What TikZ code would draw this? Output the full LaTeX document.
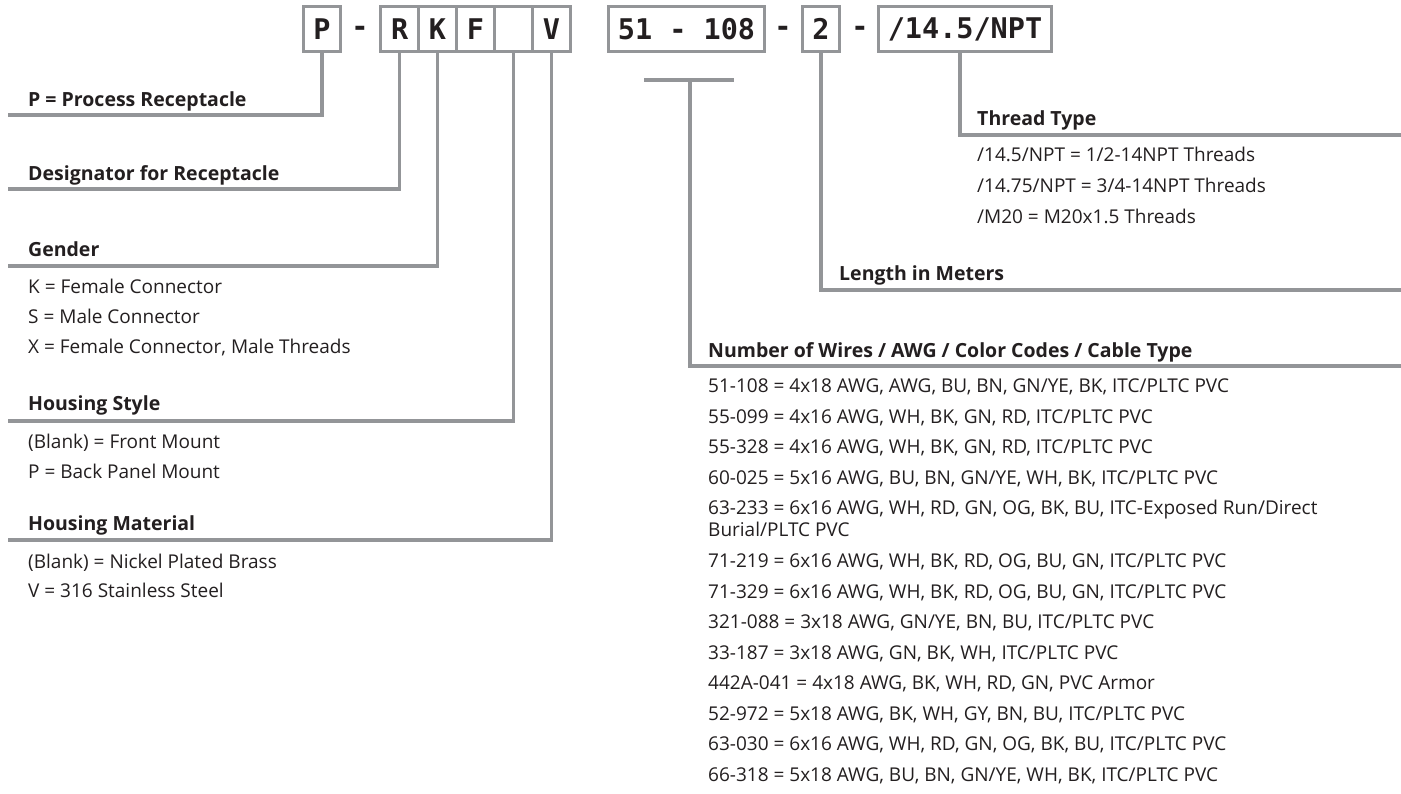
\documentclass[tikz,border=0pt]{standalone}
\usepackage{fontspec}
\setmainfont{Open Sans}
\newfontfamily\boxfont{DejaVu Sans Mono}
\definecolor{lgray}{HTML}{939598}
\definecolor{tdark}{HTML}{231F20}
\begin{document}
\begin{tikzpicture}[x=1pt,y=-1pt,
  conn/.style={draw=lgray, line width=3.2pt},
  codebox/.style={draw=lgray, line width=3.2pt, minimum height=44.8pt, inner sep=0pt, text=tdark, font=\boxfont\bfseries\fontsize{28.5}{28.5}\selectfont},
  dashsym/.style={inner sep=0pt, text=tdark, font=\boxfont\bfseries\fontsize{28.5}{28.5}\selectfont},
  hdr/.style={anchor=base west, inner sep=0pt, text=tdark, font=\bfseries\fontsize{19.5}{21}\selectfont},
  body/.style={anchor=base west, inner sep=0pt, text=tdark, font=\fontsize{19}{21}\selectfont}]
\useasboundingbox[fill=white] (0,0) rectangle (1401,793);

% code boxes
\node[codebox, minimum width=36.8pt] (bP) at (322,29) {P};
\node[dashsym] (d1) at (360,31) {-};
\node[codebox, minimum width=37.96pt] (cR) at (399.6,29) {R};
\node[codebox, minimum width=37.96pt] (cK) at (437.5,29) {K};
\node[codebox, minimum width=37.96pt] (cF) at (475.5,29) {F};
\node[codebox, minimum width=37.96pt] (cB) at (513.5,29) {};
\node[codebox, minimum width=37.96pt] (cV) at (551.4,29) {V};
\node[codebox, minimum width=155.8pt] (bW) at (686.5,29) {51 - 108};
\node[dashsym] (d2) at (783,31) {-};
\node[codebox, minimum width=36.8pt] (b2) at (821,29) {2};
\node[dashsym] (d3) at (860,31) {-};
\node[codebox, minimum width=172.8pt] (bN) at (965,29) {/14.5/NPT};

% connector end points
\coordinate (eP) at (8,115);
\coordinate (eR) at (8,189);
\coordinate (eK) at (8,266);
\coordinate (eB) at (8,421);
\coordinate (eV) at (8,540);
\coordinate (barL) at (644,80);
\coordinate (barR) at (734,80);
\coordinate (barM) at (690,80);
\coordinate (eW) at (1401,366);
\coordinate (eL) at (1401,290);
\coordinate (eT) at (1401,135);

\draw[conn] (bP.south) |- (eP);
\draw[conn] (cR.south) |- (eR);
\draw[conn] (cK.south) |- (eK);
\draw[conn] (cB.south) |- (eB);
\draw[conn] (cV.south) |- (eV);
\draw[conn] (barL) -- (barR);
\draw[conn] (barM) |- (eW);
\draw[conn] (b2.south) |- (eL);
\draw[conn] ([xshift=-5pt]bN.south) |- (eT);

% left texts
\node[hdr] (tP) at (28,106) {P = Process Receptacle};
\node[hdr] (tR) at (28,180) {Designator for Receptacle};
\node[hdr] (tG) at (28,256) {Gender};
\node[body] (g1) at (28,293.6) {K = Female Connector};
\node[body] (g2) at (28,323.6) {S = Male Connector};
\node[body] (g3) at (28,353.6) {X = Female Connector, Male Threads};
\node[hdr] (tS) at (28,410) {Housing Style};
\node[body] (s1) at (28,448.6) {(Blank) = Front Mount};
\node[body] (s2) at (28,478.6) {P = Back Panel Mount};
\node[hdr] (tM) at (28,530) {Housing Material};
\node[body] (m1) at (28,568.6) {(Blank) = Nickel Plated Brass};
\node[body] (m2) at (28,597.6) {V = 316 Stainless Steel};

% right texts
\node[hdr] (tT) at (977,125) {Thread Type};
\node[body] (t1) at (977,161.6) {/14.5/NPT = 1/2-14NPT Threads};
\node[body] (t2) at (977,192.6) {/14.75/NPT = 3/4-14NPT Threads};
\node[body] (t3) at (977,223.6) {/M20 = M20x1.5 Threads};
\node[hdr] (tL) at (839,280) {Length in Meters};
\node[hdr] (tW) at (708,357.5) {Number of Wires / AWG / Color Codes / Cable Type};
\node[body] (w1) at (708,392.6) {51-108 = 4x18 AWG, AWG, BU, BN, GN/YE, BK, ITC/PLTC PVC};
\node[body] (w2) at (708,423.1) {55-099 = 4x16 AWG, WH, BK, GN, RD, ITC/PLTC PVC};
\node[body] (w3) at (708,453.6) {55-328 = 4x16 AWG, WH, BK, GN, RD, ITC/PLTC PVC};
\node[body] (w4) at (708,484.1) {60-025 = 5x16 AWG, BU, BN, GN/YE, WH, BK, ITC/PLTC PVC};
\node[body] (w5) at (708,514.6) {63-233 = 6x16 AWG, WH, RD, GN, OG, BK, BU, ITC-Exposed Run/Direct};
\node[body] (w5b) at (708,536.6) {Burial/PLTC PVC};
\node[body] (w6) at (708,567.6) {71-219 = 6x16 AWG, WH, BK, RD, OG, BU, GN, ITC/PLTC PVC};
\node[body] (w7) at (708,598.1) {71-329 = 6x16 AWG, WH, BK, RD, OG, BU, GN, ITC/PLTC PVC};
\node[body] (w8) at (708,628.6) {321-088 = 3x18 AWG, GN/YE, BN, BU, ITC/PLTC PVC};
\node[body] (w9) at (708,659.1) {33-187 = 3x18 AWG, GN, BK, WH, ITC/PLTC PVC};
\node[body] (w10) at (708,689.6) {442A-041 = 4x18 AWG, BK, WH, RD, GN, PVC Armor};
\node[body] (w11) at (708,720.1) {52-972 = 5x18 AWG, BK, WH, GY, BN, BU, ITC/PLTC PVC};
\node[body] (w12) at (708,750.6) {63-030 = 6x16 AWG, WH, RD, GN, OG, BK, BU, ITC/PLTC PVC};
\node[body] (w13) at (708,781.1) {66-318 = 5x18 AWG, BU, BN, GN/YE, WH, BK, ITC/PLTC PVC};
\end{tikzpicture}
\end{document}
